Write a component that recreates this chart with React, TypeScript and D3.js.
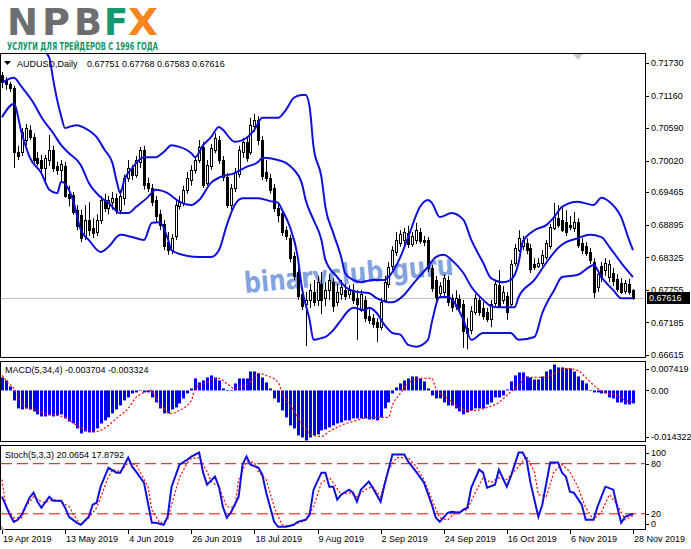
import React from "react";
import * as d3 from "d3";

// ---------- DATA ----------
const opens = [0.7152,0.7143,0.7136,0.7129,0.7017,0.7017,0.7038,0.7056,0.7043,0.7007,0.7003,0.6989,0.7003,0.7021,0.6993,0.6986,0.6993,0.6944,0.6942,0.6916,0.6907,0.6870,0.6898,0.6884,0.6877,0.6898,0.6933,0.6919,0.6929,0.6937,0.6916,0.6937,0.6972,0.6989,0.6977,0.7000,0.7021,0.6963,0.6954,0.6933,0.6908,0.6891,0.6859,0.6845,0.6870,0.6922,0.6928,0.6951,0.6968,0.6986,0.7003,0.7026,0.6963,0.6993,0.7021,0.7038,0.7003,0.6973,0.6924,0.6954,0.6979,0.7017,0.7035,0.7017,0.7063,0.7073,0.7038,0.6982,0.6972,0.6954,0.6919,0.6910,0.6880,0.6866,0.6835,0.6807,0.6768,0.6751,0.6758,0.6772,0.6758,0.6786,0.6761,0.6775,0.6789,0.6754,0.6768,0.6775,0.6768,0.6775,0.6761,0.6740,0.6758,0.6730,0.6726,0.6719,0.6710,0.6758,0.6786,0.6817,0.6842,0.6858,0.6863,0.6875,0.6856,0.6863,0.6877,0.6863,0.6863,0.6814,0.6793,0.6770,0.6772,0.6793,0.6761,0.6747,0.6760,0.6751,0.6709,0.6705,0.6737,0.6758,0.6744,0.6737,0.6725,0.6753,0.6784,0.6758,0.6765,0.6751,0.6823,0.6845,0.6852,0.6858,0.6849,0.6821,0.6817,0.6823,0.6833,0.6852,0.6884,0.6901,0.6898,0.6894,0.6889,0.6884,0.6894,0.6858,0.6852,0.6842,0.6824,0.6781,0.6817,0.6810,0.6798,0.6805,0.6795,0.6788,0.6774,0.6786,0.67751];
const highs = [0.7157,0.7148,0.7140,0.7133,0.7028,0.7059,0.7066,0.7064,0.7050,0.7017,0.7012,0.7012,0.7047,0.7028,0.7000,0.7003,0.7000,0.6958,0.6947,0.6924,0.6916,0.6924,0.6929,0.6901,0.6908,0.6940,0.6944,0.6940,0.6947,0.6944,0.6951,0.6977,0.7003,0.6994,0.7010,0.7026,0.7028,0.6972,0.6961,0.6940,0.6916,0.6898,0.6877,0.6873,0.6933,0.6940,0.6958,0.6982,0.6994,0.7010,0.7038,0.7035,0.7003,0.7031,0.7050,0.7045,0.7010,0.6980,0.6961,0.6989,0.7028,0.7042,0.7042,0.7077,0.7084,0.7080,0.7045,0.7003,0.6979,0.6961,0.6926,0.6916,0.6887,0.6872,0.6842,0.6814,0.6779,0.6772,0.6786,0.6793,0.6800,0.6807,0.6789,0.6803,0.6796,0.6786,0.6793,0.6786,0.6784,0.6786,0.6775,0.6775,0.6765,0.6744,0.6733,0.6726,0.6761,0.6800,0.6824,0.6852,0.6877,0.6880,0.6884,0.6888,0.6877,0.6893,0.6884,0.6870,0.6868,0.6819,0.6800,0.6789,0.6803,0.6800,0.6768,0.6775,0.6767,0.6758,0.6726,0.6747,0.6768,0.6765,0.6754,0.6744,0.6758,0.6793,0.6810,0.6782,0.6772,0.6828,0.6856,0.6880,0.6870,0.6866,0.6856,0.6831,0.6831,0.6845,0.6863,0.6891,0.6928,0.6924,0.6922,0.6915,0.6905,0.6912,0.6901,0.6866,0.6859,0.6849,0.6831,0.6810,0.6824,0.6831,0.6828,0.6814,0.6803,0.6796,0.6793,0.6795,0.67768];
const lows = [0.7129,0.7126,0.7122,0.6989,0.7003,0.7010,0.7029,0.7038,0.6998,0.6993,0.6982,0.6965,0.6993,0.6982,0.6977,0.6965,0.6937,0.6922,0.6907,0.6880,0.6859,0.6863,0.6870,0.6866,0.6870,0.6891,0.6912,0.6908,0.6916,0.6908,0.6908,0.6924,0.6965,0.6968,0.6972,0.6989,0.6951,0.6947,0.6922,0.6894,0.6880,0.6845,0.6837,0.6838,0.6863,0.6916,0.6922,0.6944,0.6958,0.6979,0.6998,0.6954,0.6958,0.6986,0.7015,0.6996,0.6966,0.6919,0.6916,0.6947,0.6972,0.7007,0.7000,0.7012,0.7052,0.7029,0.6968,0.6965,0.6944,0.6912,0.6894,0.6870,0.6863,0.6824,0.6793,0.6758,0.6740,0.6677,0.6744,0.6747,0.6747,0.6733,0.6747,0.6758,0.6737,0.6747,0.6758,0.6758,0.6761,0.6751,0.6688,0.6737,0.6719,0.6716,0.6709,0.6684,0.6705,0.6753,0.6779,0.6810,0.6835,0.6851,0.6851,0.6849,0.6851,0.6856,0.6856,0.6852,0.6807,0.6772,0.6754,0.6761,0.6765,0.6747,0.6737,0.6740,0.6737,0.6674,0.6671,0.6698,0.6732,0.6730,0.6723,0.6719,0.6710,0.6747,0.6744,0.6751,0.6723,0.6747,0.6817,0.6842,0.6845,0.6838,0.6805,0.6810,0.6814,0.6817,0.6828,0.6847,0.6880,0.6884,0.6877,0.6870,0.6880,0.6877,0.6849,0.6838,0.6835,0.6821,0.6761,0.6772,0.6789,0.6800,0.6789,0.6782,0.6772,0.6768,0.6768,0.6767,0.67583];
const closes = [0.7140,0.7136,0.7129,0.7017,0.7010,0.7052,0.7059,0.7043,0.7003,0.6998,0.6989,0.7007,0.7021,0.6989,0.6986,0.6996,0.6940,0.6937,0.6912,0.6887,0.6866,0.6898,0.6880,0.6875,0.6898,0.6933,0.6919,0.6933,0.6937,0.6916,0.6940,0.6972,0.6989,0.6977,0.7003,0.7021,0.6959,0.6954,0.6929,0.6905,0.6889,0.6852,0.6845,0.6866,0.6924,0.6929,0.6951,0.6972,0.6986,0.7003,0.7026,0.6959,0.6994,0.7024,0.7042,0.7003,0.6973,0.6924,0.6954,0.6982,0.7021,0.7035,0.7007,0.7064,0.7073,0.7038,0.6975,0.6972,0.6951,0.6919,0.6907,0.6877,0.6870,0.6831,0.6800,0.6765,0.6747,0.6758,0.6775,0.6754,0.6789,0.6758,0.6775,0.6793,0.6747,0.6772,0.6781,0.6765,0.6775,0.6758,0.6751,0.6768,0.6726,0.6723,0.6716,0.6710,0.6754,0.6789,0.6816,0.6845,0.6863,0.6873,0.6877,0.6856,0.6870,0.6880,0.6861,0.6859,0.6814,0.6779,0.6763,0.6782,0.6796,0.6754,0.6746,0.6761,0.6746,0.6704,0.6700,0.6738,0.6761,0.6737,0.6730,0.6725,0.6751,0.6786,0.6747,0.6772,0.6737,0.6821,0.6849,0.6866,0.6863,0.6845,0.6812,0.6816,0.6823,0.6837,0.6858,0.6886,0.6903,0.6889,0.6880,0.6877,0.6886,0.6894,0.6854,0.6845,0.6840,0.6828,0.6772,0.6803,0.6798,0.6823,0.6821,0.6791,0.6777,0.6772,0.6788,0.6772,0.67616];

const bbUpperIdx = [0,3,5,7,10,12,13,14,15,16,17,19,21,24,26,28,29,30,31,33,36,39,41,43,45,48,49,51,53,55,56,59,61,64,66,70,72,74,76,77,78,79,81,82,84,86,87,89,91,94,97,98,101,103,106,108,109,111,114,117,119,122,124,127,129,131,132,135,138,140,142,146,150,152,154,157,159,160];
const bbUpper = [0.7198,0.7192,0.7212,0.7212,0.7199,0.7182,0.7143,0.7108,0.7080,0.7059,0.7061,0.7064,0.7059,0.7043,0.7021,0.6998,0.6968,0.6945,0.6968,0.6989,0.7008,0.7008,0.7017,0.7029,0.7026,0.7015,0.7008,0.7029,0.7043,0.7061,0.7056,0.7035,0.7038,0.7056,0.7077,0.7077,0.7091,0.7112,0.7117,0.7117,0.7096,0.7026,0.6973,0.6921,0.6875,0.6833,0.6805,0.6793,0.6789,0.6793,0.6793,0.6798,0.6833,0.6868,0.6921,0.6933,0.6928,0.6903,0.6910,0.6898,0.6863,0.6823,0.6796,0.6789,0.6793,0.6823,0.6859,0.6880,0.6889,0.6903,0.6921,0.6930,0.6924,0.6937,0.6930,0.6903,0.6863,0.6845];
const bbMiddleIdx = [0,3,5,8,10,13,15,17,20,22,25,27,30,32,34,37,39,42,45,48,50,53,55,59,62,65,66,70,72,74,76,77,79,81,82,85,87,90,93,95,98,99,102,104,108,110,112,114,117,119,122,124,126,130,131,135,138,141,143,146,149,152,154,157,160];
const bbMiddle = [0.7138,0.7147,0.7131,0.7103,0.7078,0.7050,0.7029,0.7015,0.6994,0.6963,0.6938,0.6928,0.6910,0.6910,0.6921,0.6938,0.6951,0.6945,0.6930,0.6924,0.6933,0.6963,0.6972,0.6980,0.6991,0.7000,0.7007,0.7003,0.6998,0.6986,0.6963,0.6933,0.6898,0.6863,0.6828,0.6798,0.6781,0.6772,0.6770,0.6761,0.6754,0.6754,0.6767,0.6784,0.6816,0.6833,0.6837,0.6828,0.6805,0.6781,0.6758,0.6747,0.6745,0.6745,0.6763,0.6793,0.6823,0.6849,0.6859,0.6866,0.6872,0.6868,0.6851,0.6823,0.6798];
const bbLowerIdx = [0,3,5,7,10,12,14,15,18,20,22,25,27,30,33,36,38,40,42,43,47,50,53,55,57,59,61,65,68,70,71,73,75,76,78,79,81,82,84,86,88,89,92,93,95,97,99,101,103,105,108,109,111,113,117,119,122,129,131,135,137,140,142,146,149,150,152,155,157,160];
const bbLower = [0.7078,0.7101,0.7050,0.7008,0.6980,0.6951,0.6945,0.6965,0.6933,0.6880,0.6863,0.6842,0.6851,0.6872,0.6868,0.6863,0.6893,0.6894,0.6866,0.6845,0.6835,0.6833,0.6833,0.6845,0.6889,0.6924,0.6936,0.6936,0.6931,0.6928,0.6916,0.6886,0.6833,0.6781,0.6723,0.6688,0.6691,0.6693,0.6705,0.6723,0.6740,0.6744,0.6740,0.6744,0.6735,0.6714,0.6700,0.6697,0.6679,0.6676,0.6688,0.6719,0.6763,0.6763,0.6723,0.6688,0.6700,0.6700,0.6688,0.6693,0.6735,0.6775,0.6798,0.6802,0.6816,0.6819,0.6798,0.6775,0.6761,0.6761];

const macdHist = [0.00372,0.00286,0.00114,-0.00286,-0.00515,-0.00543,-0.00515,-0.00543,-0.00601,-0.00686,-0.00744,-0.00744,-0.00715,-0.00744,-0.00715,-0.00686,-0.00801,-0.00887,-0.00944,-0.01087,-0.0123,-0.01173,-0.01201,-0.01201,-0.01087,-0.00944,-0.00858,-0.00772,-0.00658,-0.00543,-0.00429,-0.00286,-0.002,-0.00086,-0.00057,-0.00005,-0.00057,-0.00057,-0.002,-0.00343,-0.00515,-0.00658,-0.00658,-0.00543,-0.00486,-0.00372,-0.00229,-0.00086,0.00057,0.00343,0.00229,0.00286,0.00372,0.00429,0.00372,0.00286,0.00057,-0.00005,0.00014,0.002,0.00343,0.00343,0.00343,0.00543,0.00543,0.00486,0.00372,0.00229,0.00057,-0.00229,-0.00343,-0.00572,-0.00772,-0.01001,-0.01087,-0.01287,-0.01344,-0.014322,-0.01344,-0.01287,-0.01258,-0.01144,-0.01115,-0.01058,-0.01001,-0.00944,-0.00915,-0.00858,-0.00858,-0.00801,-0.00801,-0.00801,-0.00801,-0.00829,-0.00829,-0.00858,-0.00772,-0.00515,-0.00343,-0.00086,0.00086,0.002,0.00286,0.00343,0.004,0.004,0.00343,0.00257,0.00057,-0.00143,-0.00229,-0.00229,-0.00343,-0.00429,-0.00429,-0.00515,-0.00601,-0.00686,-0.00629,-0.00572,-0.00515,-0.00515,-0.00515,-0.004,-0.00343,-0.002,-0.002,-0.00143,0.00029,0.00257,0.00429,0.00515,0.00515,0.004,0.00372,0.00315,0.00315,0.004,0.00543,0.00601,0.007419,0.00658,0.00658,0.00629,0.00629,0.00543,0.004,0.00286,0.002,-0.00005,-0.00057,-0.00057,-0.00086,-0.00086,-0.002,-0.00229,-0.00343,-0.00343,-0.004,-0.004,-0.003704];
const macdSignalIdx = [0,1,3,5,6,9,11,14,16,19,22,24,27,29,32,34,36,38,39,41,43,45,48,49,52,55,57,59,60,63,65,67,70,71,74,76,79,81,83,86,90,93,95,98,99,101,103,106,109,110,113,115,118,120,123,126,128,131,133,136,138,141,143,146,148,151,153,156,158,160];
const macdSignal = [0.00429,0.00286,0.00057,-0.00343,-0.00486,-0.00572,-0.00658,-0.00715,-0.00772,-0.01001,-0.01144,-0.01173,-0.01001,-0.00801,-0.00515,-0.002,-0.00057,0,-0.002,-0.00515,-0.00658,-0.00572,-0.00286,0.00057,0.00229,0.00343,0.002,0.00057,0.00086,0.00229,0.00486,0.00429,0.00229,-0.00057,-0.00572,-0.00944,-0.01287,-0.01316,-0.01173,-0.01001,-0.00858,-0.00772,-0.00772,-0.00772,-0.00429,-0.00086,0.002,0.00343,0.00343,0.00057,-0.00229,-0.00429,-0.00572,-0.00572,-0.00486,-0.00343,-0.00143,0.00143,0.00372,0.00372,0.00372,0.00543,0.00629,0.00572,0.00372,0.00057,-0.00057,-0.00143,-0.00286,-0.003324];

const stochMainIdx = [0,2,3,4,5,7,8,9,10,12,13,15,16,17,19,20,22,23,24,25,27,29,30,32,33,34,36,37,38,39,41,42,43,45,47,48,50,51,52,54,55,56,57,58,60,61,62,63,65,66,67,69,70,72,74,75,77,78,79,81,82,83,84,85,86,88,89,90,91,93,94,96,97,99,102,103,105,107,109,110,111,113,114,116,117,118,119,121,122,123,125,126,128,129,131,132,133,134,136,137,139,141,142,143,144,145,147,148,150,151,152,153,155,156,157,158,160];
const stochMain = [40.5,18.8,10.4,12.8,18.8,39.3,45.3,34.5,27.3,40.5,35.7,35.7,27.3,16.4,9.2,6.8,16.4,30.9,33.3,52.5,75.3,69.3,69.3,87.3,76.5,70.5,57.3,33.3,9.2,9.2,6.8,16.4,52.5,78.9,84.9,88.5,93.3,69.3,54.9,64.5,52.5,28.5,15.2,21.2,40.5,78.9,88.5,78.9,75.3,66.9,45.3,10.4,4.4,4.4,6.8,10.4,12.8,18.8,48.9,69.3,69.3,52.5,52.5,36.9,42.9,48.9,45.3,34.5,48.9,58.5,51.3,34.5,54.9,90.9,90.9,82.5,70.5,57.3,30.9,15.2,10.4,21.2,22.4,21.2,24.9,27.3,51.3,72.9,69.3,51.3,54.9,72.9,52.5,64.5,93.3,93.3,84.9,57.3,16.4,30.9,81.3,81.3,69.3,64.5,46.5,45.3,30.9,12.8,12.8,28.5,40.5,52.5,48.9,28.5,9.2,16.4,20.0654];
const stochSignalIdx = [0,1,3,5,6,8,10,11,13,15,17,19,20,22,24,25,27,28,30,32,34,35,37,38,40,42,43,45,47,48,50,52,53,55,57,59,60,62,64,65,67,69,71,73,76,77,79,81,83,84,86,88,90,92,94,96,98,100,103,105,107,109,111,113,115,118,120,122,124,126,128,131,133,135,136,138,140,142,144,146,148,150,152,154,156,158,160];
const stochSignal = [60.9,28.5,15.2,15.2,28.5,40.5,34.5,33.3,36.9,34.5,28.5,12.8,6.8,15.2,27.3,39.3,64.5,72.9,70.5,81.3,78.9,70.5,52.5,24.9,9.2,12.8,30.9,63.3,81.3,86.1,87.3,70.5,58.5,52.5,28.5,27.3,60.9,82.5,81.3,70.5,60.9,28.5,6.8,5.6,10.4,12.8,28.5,57.3,63.3,57.3,42.9,45.3,40.5,48.9,52.5,40.5,72.9,87.3,87.3,76.5,60.9,36.9,15.2,12.8,21.2,24.9,45.3,63.3,57.3,63.3,60.9,76.5,88.5,70.5,42.9,40.5,70.5,78.9,70.5,52.5,27.3,12.8,22.4,42.9,30.9,12.8,17.8792];
const stochLevels = [80, 20];

const priceTicks = [0.7173, 0.7116, 0.7059, 0.7002, 0.69465, 0.68895, 0.68325, 0.67755, 0.67185, 0.66615];
const macdTicks = [0.007419, 0, -0.014322];
const macdTickLabels = ["0.007419", "0.00", "-0.014322"];
const stochTicks = [100, 80, 20, 0];
const dateTickIdx = [0, 16, 32, 48, 64, 80, 96, 112, 128, 144, 160];
const dateTickLabels = ["19 Apr 2019", "13 May 2019", "4 Jun 2019", "26 Jun 2019", "18 Jul 2019", "9 Aug 2019", "2 Sep 2019", "24 Sep 2019", "16 Oct 2019", "6 Nov 2019", "28 Nov 2019"];
const symbolTitle = "AUDUSD,Daily";
const ohlcTitle = ["0.67751", "0.67768", "0.67583", "0.67616"];
const lastPrice = 0.67616;
const macdTitle = "MACD(5,34,4) -0.003704 -0.003324";
const stochTitle = "Stoch(5,3,3) 20.0654 17.8792";
const watermark = "binaryclub.guru";

// ---------- CHART ----------
const FONT = "'Liberation Sans', Arial, sans-serif";
const FS = 9;
const BLUE = "#1010dc";

export default function App() {
  const x = d3.scaleLinear().domain([0, 160]).range([2, 633]);
  const yP = d3.scaleLinear().domain([0.66579, 0.71905]).range([357, 53]);
  const yM = d3.scaleLinear().domain([-0.014322, 0.007419]).range([440.5, 364.5]);
  const yS = d3.scaleLinear().domain([0, 100]).range([530.5, 447]);
  const px = (i: number) => Math.round(x(i)) + 0.5;

  const mkLine = (idx: number[], vals: number[], y: (v: number) => number, curve: any) =>
    d3.line<number>().x((_, k) => x(idx[k])).y((v) => y(v)).curve(curve)(vals) || "";

  const main = { x0: 0.5, x1: 645.5, y0: 53.5, y1: 357.5 };
  const macdP = { y0: 361.5, y1: 441.5 };
  const stP = { y0: 445.5, y1: 529.5 };
  const fmt = d3.format(".5f");

  return (
    <svg width={691} height={549} style={{ position: "absolute", left: 0, top: 0, background: "#fff" }} fontFamily={FONT}>
      <defs>
        <clipPath id="cMain"><rect x={main.x0} y={main.y0} width={main.x1 - main.x0} height={main.y1 - main.y0} /></clipPath>
        <clipPath id="cMacd"><rect x={0.5} y={macdP.y0} width={645} height={macdP.y1 - macdP.y0} /></clipPath>
        <clipPath id="cSt"><rect x={0.5} y={stP.y0} width={645} height={stP.y1 - stP.y0} /></clipPath>
      </defs>
      <rect x={0} y={0} width={691} height={549} fill="#fff" />

      {/* Logo */}
      <g fontFamily="'DejaVu Sans', sans-serif" fontWeight="bold" fontSize={37}>
        <text x={7} y={35} fill="#6d6e70" textLength={31} lengthAdjust="spacingAndGlyphs">N</text>
        <text x={42} y={35} fill="#6d6e70" textLength={28} lengthAdjust="spacingAndGlyphs">P</text>
        <text x={74} y={35} fill="#6d6e70" textLength={28} lengthAdjust="spacingAndGlyphs">B</text>
        <text x={104} y={35} fill="#14996f" textLength={24} lengthAdjust="spacingAndGlyphs">F</text>
        <text x={128} y={35} fill="#f5861f" textLength={30} lengthAdjust="spacingAndGlyphs">X</text>
      </g>
      <text x={7} y={50} fontFamily="'DejaVu Sans', sans-serif" fontWeight="bold" fontSize={10} fill="#17936b" textLength={151} lengthAdjust="spacingAndGlyphs">УСЛУГИ ДЛЯ ТРЕЙДЕРОВ С 1996 ГОДА</text>

      {/* Panel frames */}
      <rect x={main.x0} y={main.y0} width={main.x1 - main.x0} height={main.y1 - main.y0} fill="none" stroke="#000" />
      <rect x={0.5} y={macdP.y0} width={645} height={macdP.y1 - macdP.y0} fill="none" stroke="#000" />
      <rect x={0.5} y={stP.y0} width={645} height={stP.y1 - stP.y0} fill="none" stroke="#000" />

      {/* Main chart */}
      <g clipPath="url(#cMain)">
        <line x1={main.x0} x2={main.x1} y1={Math.round(yP(lastPrice)) + 0.5} y2={Math.round(yP(lastPrice)) + 0.5} stroke="#c0c0c0" />
        <text x={245} y={293} transform="rotate(-5 245 293)" fontFamily="'DejaVu Sans', sans-serif" fontWeight="bold" fontSize={29} fill="#6f93d8" opacity={0.85} textLength={210} lengthAdjust="spacingAndGlyphs">{watermark}</text>
        {closes.map((c, i) => {
          const o = opens[i];
          const cx = px(i);
          const top = Math.round(yP(Math.max(o, c)));
          const bot = Math.round(yP(Math.min(o, c)));
          const bull = c > o;
          return (
            <g key={i}>
              <line x1={cx} x2={cx} y1={yP(highs[i])} y2={yP(lows[i])} stroke="#000" />
              <rect x={cx - 1} y={top + 0.5} width={2} height={Math.max(bot - top, 1)} fill={bull ? "#fff" : "#000"} stroke="#000" />
            </g>
          );
        })}
        <path d={mkLine(bbUpperIdx, bbUpper, yP, d3.curveMonotoneX)} fill="none" stroke={BLUE} strokeWidth={2} />
        <path d={mkLine(bbMiddleIdx, bbMiddle, yP, d3.curveMonotoneX)} fill="none" stroke={BLUE} strokeWidth={2} />
        <path d={mkLine(bbLowerIdx, bbLower, yP, d3.curveMonotoneX)} fill="none" stroke={BLUE} strokeWidth={2} />
        <polygon points="573,54 583,54 578,60" fill="#c8c8c8" />
      </g>
      {/* header */}
      <polygon points="4,61 11,61 7.5,65" fill="#000" />
      <text x={17} y={67} fontSize={FS} fill="#000">{symbolTitle}</text>
      <text x={87} y={67} fontSize={FS} fill="#000">{ohlcTitle.join(" ")}</text>

      {/* Price axis */}
      {priceTicks.map((t) => (
        <g key={t}>
          <line x1={646} x2={649} y1={Math.round(yP(t)) + 0.5} y2={Math.round(yP(t)) + 0.5} stroke="#000" />
          <text x={651} y={yP(t) + 3.2} fontSize={FS} fill="#000">{fmt(t)}</text>
        </g>
      ))}
      <rect x={647} y={Math.round(yP(lastPrice)) - 6} width={43} height={12} fill="#000" />
      <text x={649} y={yP(lastPrice) + 3.5} fontSize={FS} fill="#fff">{fmt(lastPrice)}</text>

      {/* MACD */}
      <g clipPath="url(#cMacd)">
        {macdHist.map((v, i) => {
          const y0 = yM(0), y1 = yM(v);
          return <rect key={i} x={Math.round(x(i)) - 1} y={Math.min(y0, y1)} width={3} height={Math.max(Math.abs(y1 - y0), 0.6)} fill="#0000f0" />;
        })}
        <path d={mkLine(macdSignalIdx, macdSignal, yM, d3.curveMonotoneX)} fill="none" stroke="#ff0000" strokeWidth={1.2} strokeDasharray="2,2" />
      </g>
      <text x={5} y={373} fontSize={FS} fill="#000">{macdTitle}</text>
      {macdTicks.map((t, k) => {
        const yy = k === 0 ? yM(t) + 4 : k === 2 ? yM(t) - 3.5 : yM(t);
        return (
          <g key={k}>
            <line x1={646} x2={649} y1={Math.round(yy) + 0.5} y2={Math.round(yy) + 0.5} stroke="#000" />
            <text x={651} y={yy + 3.2} fontSize={FS} fill="#000">{macdTickLabels[k]}</text>
          </g>
        );
      })}

      {/* Stochastic */}
      <g clipPath="url(#cSt)">
        {stochLevels.map((l) => (
          <line key={l} x1={1} x2={645} y1={yS(l)} y2={yS(l)} stroke="#ff0000" strokeDasharray="11,5" />
        ))}
        <path d={mkLine(stochSignalIdx, stochSignal, yS, d3.curveLinear)} fill="none" stroke="#ff0000" strokeWidth={1.2} strokeDasharray="2,2" />
        <path d={mkLine(stochMainIdx, stochMain, yS, d3.curveLinear)} fill="none" stroke={BLUE} strokeWidth={2} />
      </g>
      <text x={5} y={458} fontSize={FS} fill="#000">{stochTitle}</text>
      {stochTicks.map((t) => {
        const yy = t === 100 ? yS(t) + 6 : t === 0 ? yS(t) - 6.5 : yS(t);
        return (
          <g key={t}>
            <line x1={646} x2={649} y1={Math.round(yy) + 0.5} y2={Math.round(yy) + 0.5} stroke="#000" />
            <text x={651} y={yy + 3.2} fontSize={FS} fill="#000">{t}</text>
          </g>
        );
      })}
      <polygon points="1,530 1,525 5,530" fill="#b0b0b0" />

      {/* Date axis */}
      {dateTickIdx.map((i, k) => (
        <g key={i}>
          <line x1={px(i)} x2={px(i)} y1={530} y2={534} stroke="#000" />
          <text x={x(i) + 1} y={542} fontSize={FS} fill="#000">{dateTickLabels[k]}</text>
        </g>
      ))}
    </svg>
  );
}
